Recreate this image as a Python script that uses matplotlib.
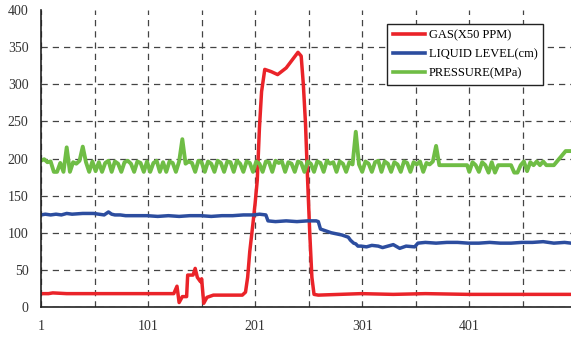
import numpy as np
import matplotlib
matplotlib.use('Agg')
import matplotlib.pyplot as plt

# ---- data ----
gas_x = [1, 8, 12, 25, 40, 55, 70, 90, 110, 125, 128, 130, 133, 137, 138,
         143, 145, 147, 150, 151, 153, 156, 162, 175, 189, 192, 194, 196,
         199, 201, 203, 205, 207, 210, 216, 222, 230, 241, 244, 246, 248,
         250, 252, 254, 256, 260, 280, 300, 330, 360, 400, 440, 496]
gas = [18, 18, 19, 18, 18, 18, 18, 18, 18, 18, 28, 6, 14, 14, 43,
       43, 52, 40, 34, 38, 5, 13, 16, 16, 16, 20, 40, 75,
       113, 140, 171, 241, 290, 320, 317, 313, 322, 343, 338, 300, 248,
       171, 100, 40, 17, 16, 17, 18, 17, 18, 17, 17, 17]

level_x = [1, 5, 10, 15, 20, 25, 30, 40, 50, 55, 60, 64, 67, 70, 75,
           80, 90, 100, 110, 120, 130, 140, 150, 160, 170, 180, 190, 200,
           205, 211, 213, 220, 230, 240, 250, 258, 260, 262, 266, 272, 282,
           288, 290, 293, 295, 297, 300, 305, 310, 316, 320, 325, 330, 336,
           342, 350, 353, 360, 370, 380, 390, 400, 410, 420, 430, 440, 450,
           460, 470, 480, 490, 496]
level = [124, 125, 124, 125, 124, 126, 125, 126, 126, 125, 124, 128, 125, 124, 124,
         123, 123, 123, 122, 123, 122, 123, 123, 122, 123, 123, 124, 124,
         125, 124, 116, 115, 116, 115, 116, 116, 115, 105, 103, 100, 97,
         94, 90, 86, 85, 82, 82, 81, 83, 82, 80, 82, 84, 79,
         82, 81, 86, 87, 86, 87, 87, 86, 86, 87, 86, 86, 87,
         87, 88, 86, 87, 86]

pressure_x = [1, 4, 7, 10, 13, 16, 19, 22, 25, 28,
              31, 34, 37, 40, 43, 46, 49, 52, 55, 58,
              61, 64, 67, 70, 73, 76, 79, 82, 85, 88,
              91, 94, 97, 100, 103, 106, 109, 112, 115, 118,
              121, 124, 127, 130, 133, 136, 139, 142, 145, 148,
              151, 154, 157, 160, 163, 166, 169, 172, 175, 178,
              181, 184, 187, 190, 193, 196, 199, 202, 205, 208,
              211, 214, 217, 220, 223, 226, 229, 232, 235, 238,
              241, 244, 247, 250, 253, 256, 259, 262, 265, 268,
              271, 274, 277, 280, 283, 286, 289, 292, 295, 298,
              301, 304, 307, 310, 313, 316, 319, 322, 325, 328,
              331, 334, 337, 340, 343, 346, 349, 352, 355, 358,
              361, 364, 367, 370, 373, 376, 390, 399, 401, 404,
              407, 410, 413, 416, 419, 422, 425, 428, 440, 443,
              446, 449, 452, 455, 458, 461, 464, 467, 470, 473,
              480, 491, 496]
pressure = [197, 199, 195, 196, 182, 182, 194, 182, 215, 182,
            195, 193, 197, 216, 195, 182, 196, 183, 195, 182,
            194, 197, 182, 196, 193, 182, 195, 197, 193, 182,
            196, 194, 182, 196, 182, 194, 197, 182, 195, 182,
            196, 194, 182, 196, 226, 193, 196, 194, 182, 197,
            195, 182, 196, 193, 182, 197, 194, 182, 196, 195,
            182, 197, 193, 182, 196, 194, 182, 196, 193, 182,
            196, 195, 182, 197, 194, 196, 182, 195, 193, 182,
            196, 194, 182, 196, 193, 182, 196, 194, 182, 197,
            193, 195, 182, 196, 193, 182, 195, 192, 236, 192,
            182, 196, 193, 182, 195, 197, 182, 196, 193, 182,
            195, 192, 182, 196, 194, 182, 195, 192, 196, 182,
            194, 192, 196, 217, 191, 191, 191, 191, 182, 195,
            191, 182, 195, 191, 181, 195, 181, 191, 191, 181,
            181, 191, 196, 183, 195, 191, 196, 191, 196, 191,
            191, 210, 210]

xticks = [1, 101, 201, 301, 401]
xgrid = [51, 151, 251, 351, 451]
yticks = [0, 50, 100, 150, 200, 250, 300, 350, 400]

c_gas = '#ea2329'
c_level = '#2c4d9f'
c_pres = '#6fbd45'

plt.rcParams['font.family'] = ['Liberation Serif', 'DejaVu Serif']

fig = plt.figure(figsize=(5.71, 3.38), dpi=100)
ax = fig.add_axes([41 / 571, 31 / 338, 530 / 571, 297 / 338])

ax.plot(gas_x, gas, color=c_gas, lw=2.5, label='GAS(X50 PPM)',
        solid_joinstyle='round')
ax.plot(level_x, level, color=c_level, lw=2.5, label='LIQUID LEVEL(cm)',
        solid_joinstyle='round')
ax.plot(pressure_x, pressure, color=c_pres, lw=2.8, label='PRESSURE(MPa)',
        solid_joinstyle='round')

ax.set_xlim(1, 496)
ax.set_ylim(0, 400)
ax.set_xticks(xticks)
ax.set_xticks(xgrid, minor=True)
ax.set_yticks(yticks)

ax.grid(True, which='both', linestyle=(0, (5, 4)), color='#444444', lw=0.9)
ax.get_ygridlines()[-1].set_visible(False)
ax.set_axisbelow(True)

for side in ['top', 'right']:
    ax.spines[side].set_visible(False)
for side in ['left', 'bottom']:
    ax.spines[side].set_linewidth(1.2)
    ax.spines[side].set_color('#222222')

ax.tick_params(which='both', length=0, labelsize=10, colors='#333333')
ax.tick_params(axis='x', pad=9)
ax.tick_params(axis='y', pad=9)

leg = ax.legend(
    loc='upper left',
    bbox_to_anchor=(0.653, 0.953),
    borderaxespad=0,
    fontsize=9,
    frameon=True,
    fancybox=False,
    edgecolor='#222222',
    framealpha=1,
    handlelength=2.6,
    handletextpad=0.3,
    labelspacing=0.55,
    borderpad=0.45,
)
leg.get_frame().set_linewidth(1.0)
for line in leg.get_lines():
    line.set_linewidth(2.6)

fig.savefig('out.png', dpi=100)
